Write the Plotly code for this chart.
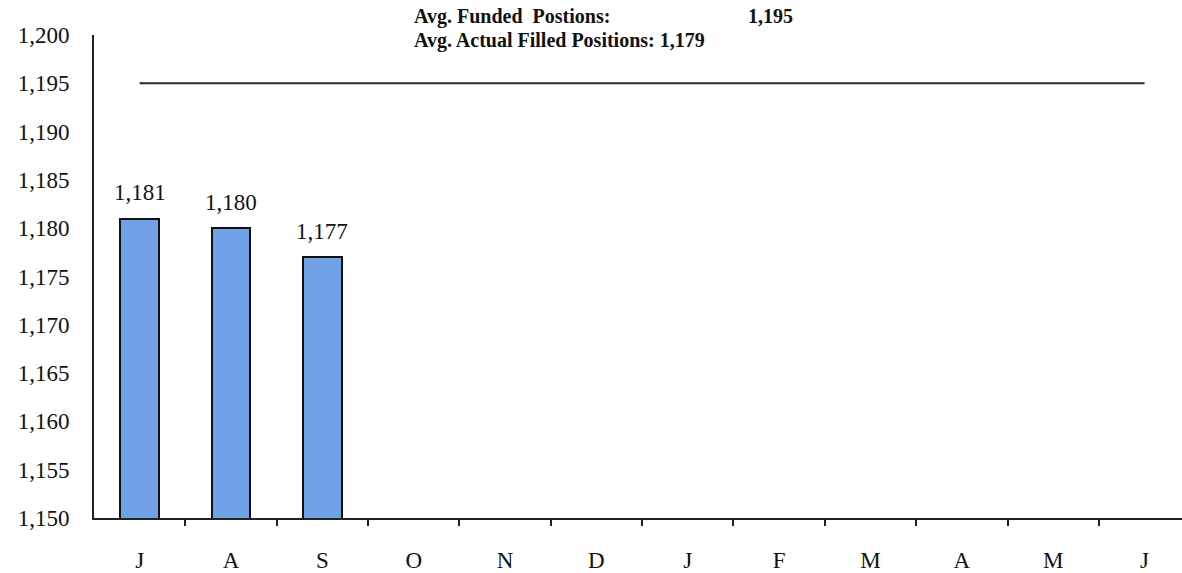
import plotly.graph_objects as go

months = ["J", "A", "S", "O", "N", "D", "J", "F", "M", "A", "M", "J"]
filled = [1181, 1180, 1177, None, None, None, None, None, None, None, None, None]
funded = [1195] * 12
avg_funded = 1195
avg_filled = 1179

x = list(range(len(months)))
FONT = "Liberation Serif"

fig = go.Figure()
fig.add_trace(go.Bar(
    x=x, y=filled, width=0.42,
    marker=dict(color="#72A2E6", line=dict(color="#111111", width=2)),
    showlegend=False,
))
fig.add_trace(go.Scatter(
    x=x, y=funded, mode="lines",
    line=dict(color="#2a2a2a", width=2), showlegend=False,
))

for xi, v in zip(x, filled):
    if v is not None:
        fig.add_annotation(x=xi, y=v, text=f"{v:,}", showarrow=False,
                           yanchor="middle", yshift=26,
                           font=dict(family=FONT, size=23, color="#111"))

fig.update_layout(
    width=1182, height=573,
    margin=dict(l=94, r=0, t=35, b=52),
    paper_bgcolor="white", plot_bgcolor="white",
    font=dict(family=FONT, color="#111"),
    bargap=0,
)
fig.update_xaxes(
    range=[-0.5, 11.41], tickmode="array", tickvals=x, ticktext=months,
    ticks="", showline=True, linecolor="#222", linewidth=2,
    showgrid=False, zeroline=False,
    tickfont=dict(family=FONT, size=23),
    ticklabelstandoff=20,
    minor=dict(tickmode="array", tickvals=[i + 0.5 for i in range(11)],
               ticks="outside", ticklen=6, tickcolor="#222", tickwidth=1.5, showgrid=False),
)
fig.update_yaxes(
    range=[1150, 1200], dtick=5, tickformat=",d",
    showline=True, linecolor="#222", linewidth=2,
    showgrid=False, zeroline=False, ticks="",
    tickfont=dict(family=FONT, size=23),
    ticklabelstandoff=18,
)

fig.add_annotation(xref="paper", yref="paper", x=0.292, y=1.039, xanchor="left", yanchor="middle",
                   text="<b>Avg. Funded  Postions:</b>", showarrow=False,
                   font=dict(family=FONT, size=20, color="#111"))
fig.add_annotation(xref="paper", yref="paper", x=0.644, y=1.039, xanchor="right", yanchor="middle",
                   text=f"<b>{avg_funded:,}</b>", showarrow=False,
                   font=dict(family=FONT, size=20, color="#111"))
fig.add_annotation(xref="paper", yref="paper", x=0.292, y=0.9877, xanchor="left", yanchor="middle",
                   text=f"<b>Avg. Actual Filled Positions: {avg_filled:,}</b>", showarrow=False,
                   font=dict(family=FONT, size=20, color="#111"))

fig.write_html("out.html", config={"displayModeBar": False},
               post_script="document.body.style.margin='0';")
